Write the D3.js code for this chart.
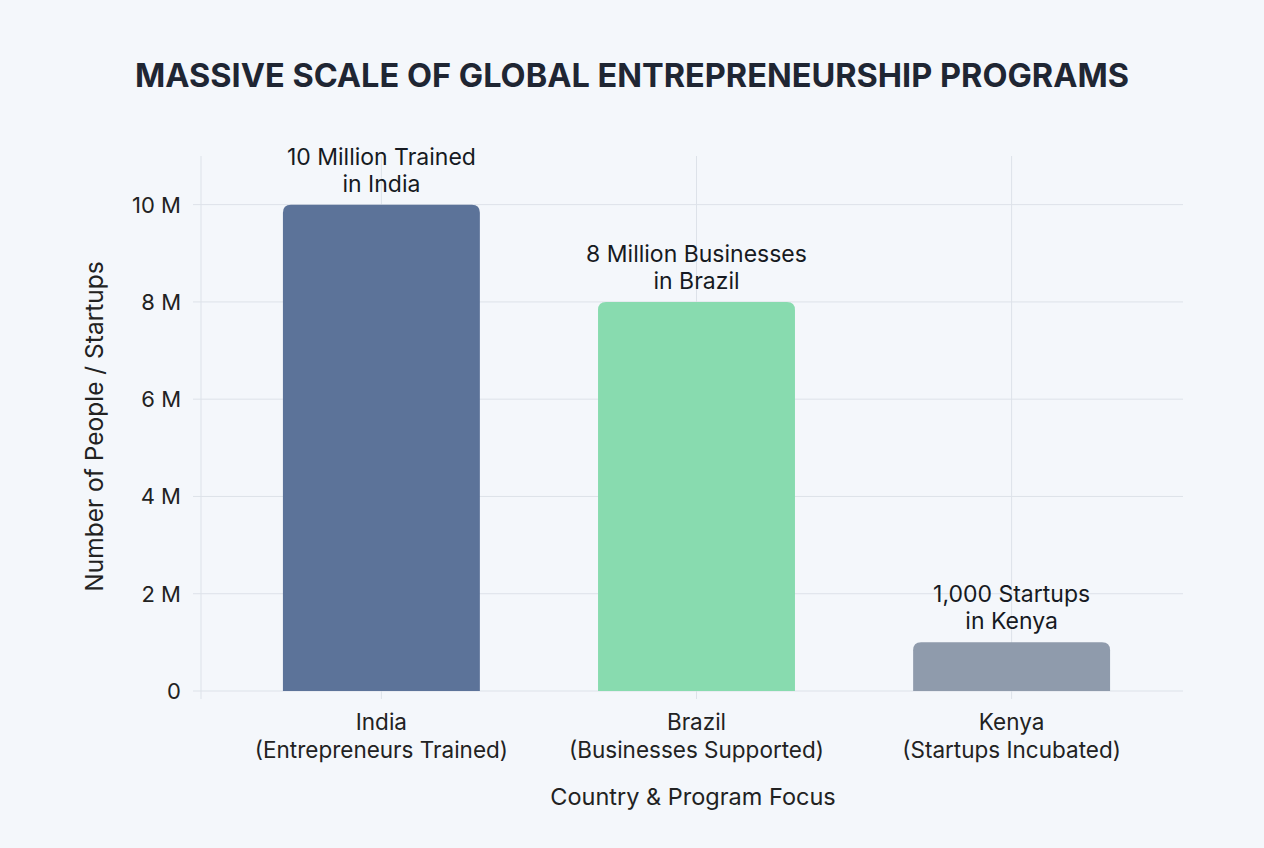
<!DOCTYPE html>
<html>
<head>
<meta charset="utf-8">
<script src="https://cdn.jsdelivr.net/npm/d3@7"></script>
<style>
  html, body { margin: 0; padding: 0; background: #f4f7fb; }
  svg { display: block; font-family: Inter, "Noto Sans", sans-serif; }
</style>
</head>
<body>
<div id="chart"></div>
<script>
// data
var countries = ["India", "Brazil", "Kenya"];
var focus = ["(Entrepreneurs Trained)", "(Businesses Supported)", "(Startups Incubated)"];
var values = [10000000, 8000000, 1000000];
var barLabelTop = ["10 Million Trained", "8 Million Businesses", "1,000 Startups"];
var barLabelBottom = ["in India", "in Brazil", "in Kenya"];
var barColors = ["#5c7399", "#88dbaf", "#8f9bac"];
var yTicks = [0, 2000000, 4000000, 6000000, 8000000, 10000000];

var width = 1264, height = 848;
var plotLeft = 201, plotRight = 1192, plotTop = 156, plotBottom = 691;
var gridRight = 1183;

var svg = d3.select("#chart").append("svg")
    .attr("width", width)
    .attr("height", height);

svg.append("rect")
    .attr("width", width)
    .attr("height", height)
    .attr("fill", "#f4f7fb");

var x = d3.scaleBand()
    .domain(countries)
    .range([plotLeft, plotRight])
    .paddingInner(0.375)
    .paddingOuter(0.26);

var y = d3.scaleLinear()
    .domain([0, 11000000])
    .range([plotBottom, plotTop]);

// title
svg.append("text")
    .attr("x", 632)
    .attr("y", 87)
    .attr("text-anchor", "middle")
    .attr("font-size", 32.5)
    .attr("font-weight", 700)
    .attr("fill", "#1f2633")
    .text("MASSIVE SCALE OF GLOBAL ENTREPRENEURSHIP PROGRAMS");

// grid
var grid = svg.append("g");
grid.selectAll(".hgrid")
    .data(yTicks)
    .enter()
    .append("line")
    .attr("x1", plotLeft - 8)
    .attr("x2", gridRight)
    .attr("y1", function (d) { return y(d); })
    .attr("y2", function (d) { return y(d); })
    .attr("stroke", "#dde2e9")
    .attr("stroke-width", 1);

grid.selectAll(".vgrid")
    .data([null].concat(countries))
    .enter()
    .append("line")
    .attr("x1", function (d) { return d === null ? plotLeft : x(d) + x.bandwidth() / 2; })
    .attr("x2", function (d) { return d === null ? plotLeft : x(d) + x.bandwidth() / 2; })
    .attr("y1", plotTop)
    .attr("y2", plotBottom + 8)
    .attr("stroke", "#dde2e9")
    .attr("stroke-width", 1);

// y tick labels
svg.append("g")
    .selectAll("text")
    .data(yTicks)
    .enter()
    .append("text")
    .attr("x", 181)
    .attr("y", function (d) { return y(d); })
    .attr("dy", "0.36em")
    .attr("text-anchor", "end")
    .attr("font-size", 22)
    .attr("fill", "#222")
    .text(function (d) { return d === 0 ? "0" : (d / 1000000) + " M"; });

// y axis title
svg.append("text")
    .attr("transform", "translate(103," + ((plotTop + plotBottom) / 2 + 3) + ") rotate(-90)")
    .attr("text-anchor", "middle")
    .attr("font-size", 24.5)
    .attr("fill", "#222")
    .text("Number of People / Startups");

// bars with rounded top corners
function barPath(x0, w, yTop, yBot, r) {
    r = Math.min(r, (yBot - yTop));
    return "M" + x0 + "," + yBot +
        "V" + (yTop + r) +
        "Q" + x0 + "," + yTop + " " + (x0 + r) + "," + yTop +
        "H" + (x0 + w - r) +
        "Q" + (x0 + w) + "," + yTop + " " + (x0 + w) + "," + (yTop + r) +
        "V" + yBot + "Z";
}

svg.append("g")
    .selectAll("path")
    .data(countries)
    .enter()
    .append("path")
    .attr("d", function (d, i) {
        return barPath(x(d), x.bandwidth(), y(values[i]), y(0), 8);
    })
    .attr("fill", function (d, i) { return barColors[i]; });

// bar labels
var labels = svg.append("g")
    .selectAll("text")
    .data(countries)
    .enter()
    .append("text")
    .attr("text-anchor", "middle")
    .attr("font-size", 23)
    .attr("fill", "#161a22");

labels.append("tspan")
    .attr("x", function (d) { return x(d) + x.bandwidth() / 2; })
    .attr("y", function (d, i) { return y(values[i]) - 40; })
    .text(function (d, i) { return barLabelTop[i]; });

labels.append("tspan")
    .attr("x", function (d) { return x(d) + x.bandwidth() / 2; })
    .attr("y", function (d, i) { return y(values[i]) - 13; })
    .text(function (d, i) { return barLabelBottom[i]; });

// x tick labels
var xl = svg.append("g")
    .selectAll("text")
    .data(countries)
    .enter()
    .append("text")
    .attr("text-anchor", "middle")
    .attr("font-size", 22.5)
    .attr("fill", "#222");

xl.append("tspan")
    .attr("x", function (d) { return x(d) + x.bandwidth() / 2; })
    .attr("y", 730)
    .text(function (d) { return d; });

xl.append("tspan")
    .attr("x", function (d) { return x(d) + x.bandwidth() / 2; })
    .attr("y", 758)
    .text(function (d, i) { return focus[i]; });

// x axis title
svg.append("text")
    .attr("x", 693)
    .attr("y", 805)
    .attr("text-anchor", "middle")
    .attr("font-size", 23.5)
    .attr("fill", "#222")
    .text("Country & Program Focus");
</script>
</body>
</html>
